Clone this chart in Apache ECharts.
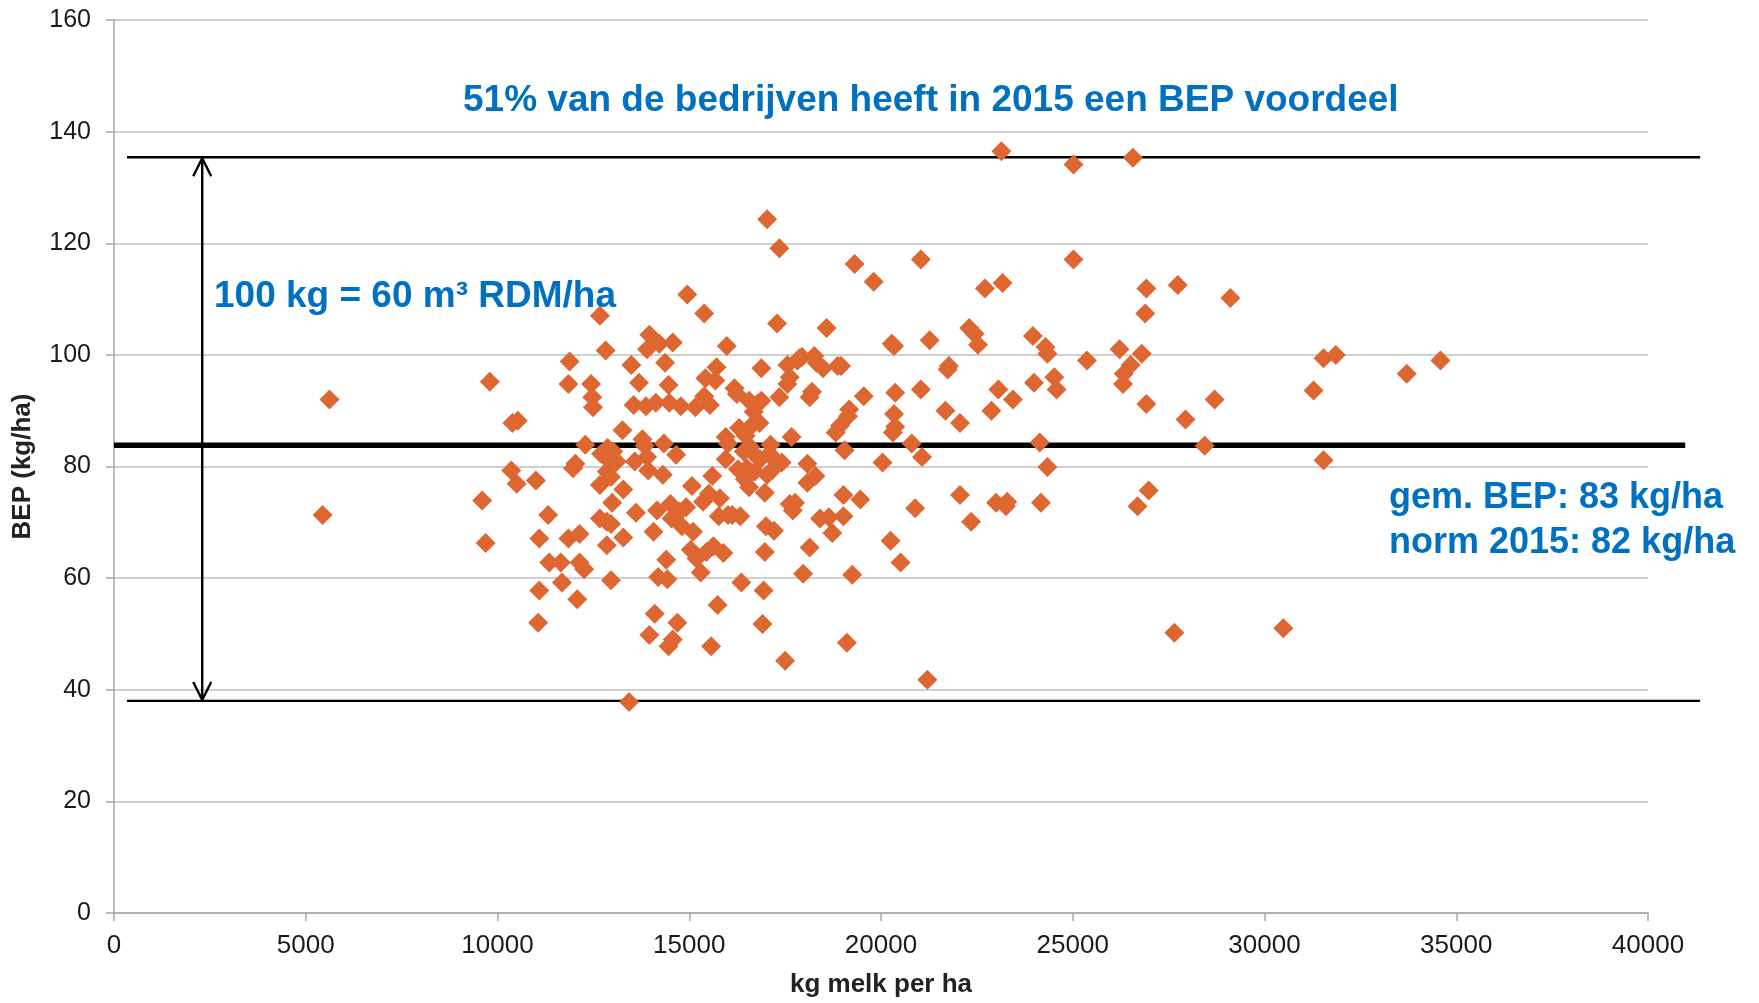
<!DOCTYPE html>
<html>
<head>
<meta charset="utf-8">
<script src="https://cdn.jsdelivr.net/npm/echarts@6.0.0/dist/echarts.min.js"></script>
<style>
  html, body { margin: 0; padding: 0; background: #fff; }
  #main { width: 1759px; height: 1003px; }
</style>
</head>
<body>
<div id="main"></div>
<script>
// kg melk per ha (x) en BEP in kg/ha (y)
var melk = [
  5620, 5440, 9800, 9600, 9690, 10390, 10530, 10360, 10500, 11000,
  11060, 11090, 11090, 11320, 11350, 11650, 11680, 11880, 11850, 11970,
  11850, 12030, 12080, 12140, 12140, 12260, 12290, 12440, 12470, 12490,
  12670, 12820, 12700, 12670, 12670, 12850, 12870, 12930, 12850, 12960,
  12850, 12960, 12960, 12990, 13020, 13110, 13260, 13280, 13280, 13430,
  13490, 13550, 13580, 13610, 13690, 13780, 13870, 13900, 13960, 13840,
  13900, 13930, 13960, 14070, 14100, 14130, 14160, 14190, 14220, 14310,
  14340, 14370, 14400, 14430, 14460, 14480, 14460, 14510, 14540, 14570,
  14570, 14630, 14660, 14690, 14750, 14780, 14810, 14920, 14950, 15040,
  15070, 15100, 15160, 15190, 15300, 15360, 15390, 15390, 15420, 15450,
  15510, 15540, 15570, 15600, 15630, 15680, 15710, 15740, 15770, 15800,
  15890, 15950, 15950, 15980, 16010, 16010, 16120, 16180, 16240, 16270,
  16300, 16330, 16360, 16420, 16450, 16470, 16500, 16560, 16560, 16590,
  16620, 16680, 16680, 16710, 16770, 16830, 16850, 16880, 16880, 16910,
  16940, 16970, 16970, 17000, 17030, 17030, 17090, 17120, 17150, 17210,
  17260, 17290, 17350, 17350, 17410, 17500, 17560, 17560, 17620, 17620,
  17670, 17700, 17760, 17820, 17880, 17940, 17970, 18080, 18080, 18140,
  18140, 18200, 18260, 18290, 18320, 18410, 18490, 18580, 18640, 18730,
  18820, 18870, 18930, 18960, 19020, 19020, 19050, 19110, 19140, 19170,
  19250, 19310, 19460, 19550, 19810, 20040, 20250, 20280, 20340, 20340,
  20310, 20370, 20370, 20510, 20800, 20890, 21040, 21040, 21070, 21210,
  21270, 21740, 21770, 21680, 22060, 22060, 22300, 22350, 22440, 22530,
  22710, 22880, 23060, 23000, 23140, 23170, 23260, 23290, 23440, 23960,
  23990, 24140, 24170, 24290, 24340, 24340, 24520, 24580, 25020, 25020,
  25370, 26220, 26310, 26330, 26510, 26570, 26690, 26800, 26890, 26920,
  26920, 26980, 27650, 27740, 27940, 28700, 28440, 29110, 30490, 31280,
  31540, 31540, 31860, 33710, 34590
];
var bep = [
  92.0, 71.3, 95.2, 73.9, 66.3, 87.8, 88.2, 79.3, 76.9, 77.5,
  52.0, 57.8, 67.1, 71.3, 62.8, 62.8, 59.2, 98.8, 94.8, 79.7,
  67.1, 80.5, 56.2, 67.9, 62.8, 61.6, 83.9, 94.8, 92.4, 90.6,
  107.0, 100.8, 82.3, 76.7, 70.7, 70.1, 83.3, 80.9, 79.1, 78.1,
  65.9, 69.7, 59.6, 73.5, 82.7, 80.9, 86.5, 75.9, 67.3, 37.8,
  98.2, 91.0, 80.9, 71.7, 95.0, 84.9, 90.8, 101.0, 103.6, 83.7,
  81.7, 79.3, 49.8, 68.3, 53.6, 91.4, 72.1, 60.2, 102.0, 78.5,
  84.1, 98.6, 63.3, 59.8, 94.6, 91.4, 47.8, 73.3, 70.7, 102.2,
  49.0, 71.3, 82.1, 52.0, 71.9, 90.8, 69.3, 72.7, 110.8, 65.1,
  76.5, 68.3, 90.6, 63.5, 61.0, 73.7, 107.4, 92.6, 95.8, 64.7,
  75.1, 91.0, 47.8, 78.3, 65.7, 95.4, 97.8, 55.2, 71.1, 74.3,
  64.5, 85.3, 81.3, 101.6, 84.1, 71.3, 71.3, 94.0, 93.0, 79.5,
  86.9, 71.1, 59.2, 82.7, 77.7, 85.5, 79.7, 91.8, 76.3, 83.5,
  87.3, 89.8, 82.3, 79.1, 91.2, 87.8, 81.3, 97.6, 91.8, 51.8,
  57.8, 64.7, 75.3, 69.3, 124.3, 78.5, 82.3, 83.9, 79.3, 68.5,
  80.9, 105.6, 119.1, 92.4, 80.7, 45.2, 98.2, 94.8, 96.0, 73.3,
  85.3, 72.1, 73.5, 99.0, 99.4, 99.6, 60.8, 80.5, 77.1, 92.4,
  65.5, 93.4, 99.8, 78.3, 98.6, 70.7, 97.6, 104.8, 70.9, 68.1,
  86.1, 98.0, 87.3, 98.0, 74.9, 71.1, 82.9, 48.4, 89.0, 90.2,
  60.6, 116.3, 74.1, 92.6, 113.1, 80.7, 66.7, 102.0, 101.6, 89.4,
  86.1, 87.1, 93.2, 62.8, 84.1, 72.5, 117.1, 93.8, 81.7, 41.8,
  102.6, 97.4, 98.0, 90.0, 87.8, 74.9, 104.8, 70.1, 103.8, 101.8,
  111.9, 90.0, 93.8, 73.5, 136.5, 112.9, 72.9, 73.7, 92.0, 103.4,
  95.0, 84.3, 73.5, 101.4, 100.2, 79.9, 96.0, 93.8, 134.1, 117.1,
  99.0, 101.0, 94.8, 96.6, 98.2, 135.3, 72.9, 100.2, 107.4, 111.9,
  91.2, 75.7, 50.2, 112.5, 88.4, 92.0, 83.7, 110.2, 51.0, 93.6,
  81.1, 99.4, 100.0, 96.6, 99.0
];

// hulplijnen: hoogste en laagste BEP, gemiddelde, en de pijl ertussen
var lijnBoven = [[340, 135.4], [41360, 135.4]];
var lijnOnder = [[340, 38], [41360, 38]];
var lijnGem = [[0, 83.8], [40970, 83.8]];
var pijl = [[2300, 135.4], [2300, 38]];

var punten = [];
for (var i = 0; i < melk.length; i++) {
  punten.push([melk[i], bep[i]]);
}

var blauw = '#0070C0';
var tekstFont = 'bold 37px "Liberation Sans", Arial, sans-serif';

var chart = echarts.init(document.getElementById('main'));
chart.setOption({
  animation: false,
  backgroundColor: '#fff',
  textStyle: { fontFamily: 'Liberation Sans, Arial, sans-serif' },
  grid: { left: 114, right: 111, top: 20, bottom: 89 },
  xAxis: {
    type: 'value',
    min: 0, max: 40000, interval: 5000,
    name: 'kg melk per ha',
    nameLocation: 'middle',
    nameGap: 59,
    nameTextStyle: { fontSize: 26, fontWeight: 'bold', color: '#222' },
    axisLine: { show: true, lineStyle: { color: '#A6A6A6', width: 1.5 } },
    axisTick: { show: true, length: 8, lineStyle: { color: '#A6A6A6', width: 1.5 } },
    axisLabel: { fontSize: 26, color: '#1a1a1a', margin: 20, formatter: function (v) { return String(v); } },
    splitLine: { show: false }
  },
  yAxis: {
    type: 'value',
    min: 0, max: 160, interval: 20,
    name: 'BEP (kg/ha)',
    nameLocation: 'middle',
    nameGap: 78,
    nameTextStyle: { fontSize: 26, fontWeight: 'bold', color: '#222' },
    axisLine: { show: true, lineStyle: { color: '#A6A6A6', width: 1.5 } },
    axisTick: { show: true, length: 8, lineStyle: { color: '#A6A6A6', width: 1.5 } },
    axisLabel: { fontSize: 25, color: '#1a1a1a', margin: 23 },
    splitLine: { show: true, lineStyle: { color: '#BFBFBF', width: 1.5 } }
  },
  series: [
    {
      type: 'scatter',
      data: punten,
      symbol: 'diamond',
      symbolSize: 20,
      itemStyle: { color: '#DE6630', opacity: 1 },
      z: 3
    }
  ]
});

// lijnen en pijl via de assen omgerekend naar pixels
function px(p) { return chart.convertToPixel({ gridIndex: 0 }, p); }
function lijn(pts, breedte) {
  var a = px(pts[0]), b = px(pts[1]);
  return {
    type: 'line', z: 1, silent: true,
    shape: { x1: a[0], y1: a[1], x2: b[0], y2: b[1] },
    style: { stroke: '#000', lineWidth: breedte }
  };
}
var pa = px(pijl[0]), pb = px(pijl[1]);
var graf = [
  lijn(lijnBoven, 2.4),
  lijn(lijnOnder, 2.4),
  lijn(lijnGem, 5.5),
  lijn(pijl, 2.4),
  {
    type: 'polyline', z: 2, silent: true,
    shape: { points: [[pa[0] - 9, pa[1] + 19], [pa[0], pa[1] + 1], [pa[0] + 9, pa[1] + 19]] },
    style: { stroke: '#000', lineWidth: 2.4, fill: null }
  },
  {
    type: 'polyline', z: 2, silent: true,
    shape: { points: [[pb[0] - 9, pb[1] - 19], [pb[0], pb[1] - 1], [pb[0] + 9, pb[1] - 19]] },
    style: { stroke: '#000', lineWidth: 2.4, fill: null }
  },
  {
    type: 'text', left: 463, top: 82, z: 5,
    style: { text: '51% van de bedrijven heeft in 2015 een BEP voordeel', fill: blauw, font: tekstFont }
  },
  {
    type: 'text', left: 214, top: 278, z: 5,
    style: { text: '100 kg = 60 m³ RDM/ha', fill: blauw, font: tekstFont }
  },
  {
    type: 'text', left: 1389, top: 476, z: 5,
    style: {
      text: 'gem. BEP: 83 kg/ha\nnorm 2015: 82 kg/ha',
      fill: blauw, lineHeight: 45,
      font: 'bold 36px "Liberation Sans", Arial, sans-serif'
    }
  }
];
chart.setOption({ graphic: graf });
</script>
</body>
</html>
